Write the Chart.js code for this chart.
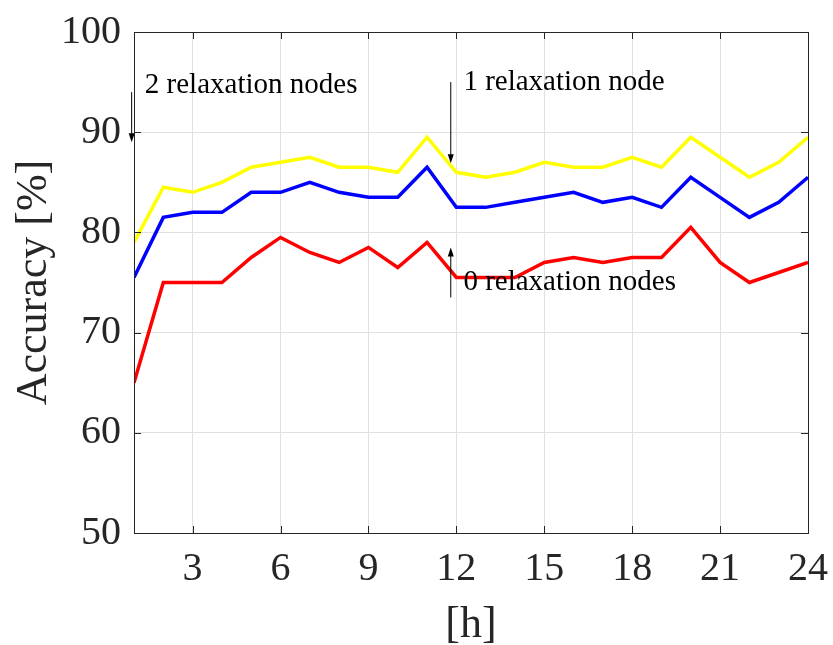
<!DOCTYPE html>
<html>
<head>
<meta charset="utf-8">
<script src="https://cdn.jsdelivr.net/npm/chart.js@4"></script>
<style>
  html, body { margin: 0; padding: 0; background: #fff; }
  #wrap { width: 833px; height: 645px; }
</style>
</head>
<body>
<div id="wrap"><canvas id="chart" width="833" height="645"></canvas></div>
<script>
// hours on the x axis
const hours = [1, 2, 3, 4, 5, 6, 7, 8, 9, 10, 11, 12, 13, 14, 15, 16, 17, 18, 19, 20, 21, 22, 23, 24];

// accuracy [%] per number of relaxation nodes
const acc2nodes = [79, 84.5, 84, 85, 86.5, 87, 87.5, 86.5, 86.5, 86, 89.5, 86, 85.5, 86, 87, 86.5, 86.5, 87.5, 86.5, 89.5, 87.5, 85.5, 87, 89.5];
const acc1node  = [75.5, 81.5, 82, 82, 84, 84, 85, 84, 83.5, 83.5, 86.5, 82.5, 82.5, 83, 83.5, 84, 83, 83.5, 82.5, 85.5, 83.5, 81.5, 83, 85.5];
const acc0nodes = [65, 75, 75, 75, 77.5, 79.5, 78, 77, 78.5, 76.5, 79, 75.5, 75.5, 75.5, 77, 77.5, 77, 77.5, 77.5, 80.5, 77, 75, 76, 77];

const xTicks = [3, 6, 9, 12, 15, 18, 21, 24];
const yTicks = [50, 60, 70, 80, 90, 100];

// text arrows: label, arrow tail / head and text anchor, in data units
const arrowLabels = ["2 relaxation nodes", "1 relaxation node", "0 relaxation nodes"];
const arrowTail = [[0.92, 94], [11.81, 95], [11.81, 73.5]];
const arrowHead = [[0.92, 89], [11.81, 86.9], [11.81, 78.5]];
const labelAt   = [[1.37, 93.9], [12.24, 94.2], [12.24, 74.3]];

const FONT = "'Liberation Serif', 'Times New Roman', serif";

// frame, inward ticks and the text arrows
const boxPlugin = {
    id: 'boxPlugin',
    afterDatasetsDraw(chart) {
        const { ctx, chartArea: a, scales } = chart;
        const xs = scales.x, ys = scales.y;
        ctx.save();
        ctx.strokeStyle = '#262626';
        ctx.lineWidth = 1;
        ctx.strokeRect(Math.round(a.left) + 0.5, Math.round(a.top) + 0.5, Math.round(a.right - a.left), Math.round(a.bottom - a.top));
        const tl = 7;
        ctx.beginPath();
        xTicks.forEach(v => {
            let px = Math.round(xs.getPixelForValue(v)) + 0.5;
            ctx.moveTo(px, a.bottom); ctx.lineTo(px, a.bottom - tl);
            ctx.moveTo(px, a.top); ctx.lineTo(px, a.top + tl);
        });
        yTicks.forEach(v => {
            let py = Math.round(ys.getPixelForValue(v)) + 0.5;
            ctx.moveTo(a.left, py); ctx.lineTo(a.left + tl, py);
            ctx.moveTo(a.right, py); ctx.lineTo(a.right - tl, py);
        });
        ctx.stroke();

        // arrows
        ctx.strokeStyle = '#000';
        ctx.fillStyle = '#000';
        ctx.font = "29px " + FONT;
        ctx.textBaseline = 'alphabetic';
        ctx.textAlign = 'left';
        arrowLabels.forEach((label, i) => {
            let x0 = xs.getPixelForValue(arrowTail[i][0]), y0 = ys.getPixelForValue(arrowTail[i][1]);
            let x1 = xs.getPixelForValue(arrowHead[i][0]), y1 = ys.getPixelForValue(arrowHead[i][1]);
            let dir = y1 > y0 ? 1 : -1;
            ctx.beginPath();
            ctx.moveTo(x0, y0); ctx.lineTo(x1, y1 - dir * 6);
            ctx.stroke();
            ctx.beginPath();
            ctx.moveTo(x1, y1);
            ctx.lineTo(x1 - 3, y1 - dir * 9);
            ctx.lineTo(x1 + 3, y1 - dir * 9);
            ctx.closePath();
            ctx.fill();
            ctx.fillText(label, xs.getPixelForValue(labelAt[i][0]), ys.getPixelForValue(labelAt[i][1]));
        });
        ctx.restore();
    }
};

const ctx = document.getElementById('chart').getContext('2d');
new Chart(ctx, {
    type: 'line',
    data: {
        datasets: [
            { label: '2 relaxation nodes', data: hours.map((h, i) => ({ x: h, y: acc2nodes[i] })), borderColor: '#ffff00' },
            { label: '1 relaxation node', data: hours.map((h, i) => ({ x: h, y: acc1node[i] })), borderColor: '#0000ff' },
            { label: '0 relaxation nodes', data: hours.map((h, i) => ({ x: h, y: acc0nodes[i] })), borderColor: '#ff0000' }
        ]
    },
    options: {
        responsive: false,
        animation: false,
        layout: { padding: { top: 32, right: 25, left: 0, bottom: 0 } },
        elements: {
            line: { borderWidth: 3.5, tension: 0, fill: false, borderJoinStyle: 'miter' },
            point: { radius: 0 }
        },
        plugins: { legend: { display: false }, tooltip: { enabled: false } },
        scales: {
            x: {
                type: 'linear', min: 1, max: 24,
                afterBuildTicks: s => { s.ticks = xTicks.map(v => ({ value: v })); },
                afterFit: s => { s.height = 112; s.paddingLeft = 0; s.paddingRight = 0; },
                grid: { color: '#e0e0e0', drawTicks: false },
                border: { display: false },
                ticks: { color: '#262626', font: { family: FONT, size: 40 }, padding: 12, maxRotation: 0 },
                title: { display: true, text: '[h]', color: '#262626', font: { family: FONT, size: 44, lineHeight: 0.9 }, padding: { top: 0, bottom: 0 } }
            },
            y: {
                min: 50, max: 100,
                afterBuildTicks: s => { s.ticks = yTicks.map(v => ({ value: v })); },
                afterFit: s => { s.width = 134; s.paddingTop = 0; s.paddingBottom = 0; },
                grid: { color: '#e0e0e0', drawTicks: false },
                border: { display: false },
                ticks: { color: '#262626', font: { family: FONT, size: 40 }, padding: 13 },
                title: { display: true, text: 'Accuracy [%]', color: '#262626', font: { family: FONT, size: 44 }, padding: { top: 8, bottom: 0 } }
            }
        }
    },
    plugins: [boxPlugin]
});
</script>
</body>
</html>
